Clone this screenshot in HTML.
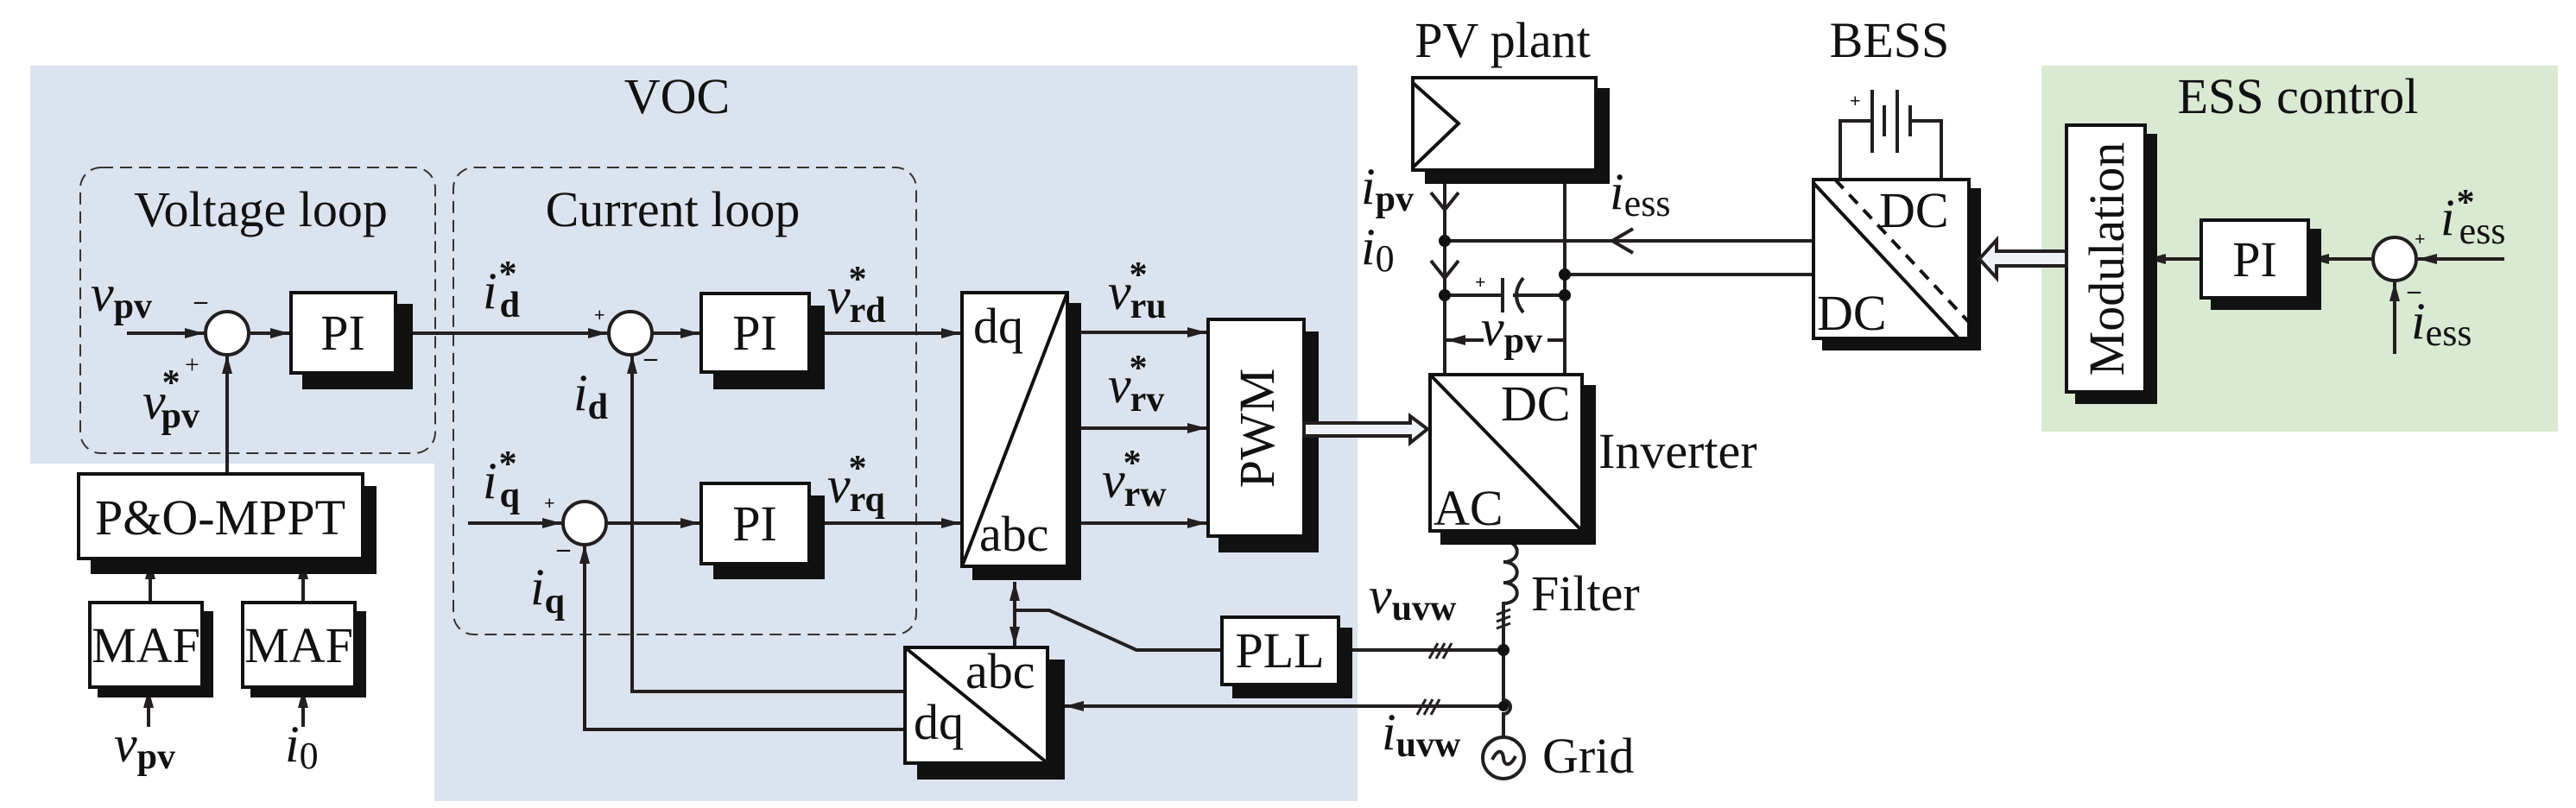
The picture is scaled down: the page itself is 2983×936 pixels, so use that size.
<!DOCTYPE html>
<html><head><meta charset="utf-8"><style>
html,body{margin:0;padding:0;background:#fff}
svg{display:block}
text{font-family:"Liberation Serif",serif;fill:#111}
.t{font-size:58px}
.m{font-size:60px;font-style:italic}
.s{font-size:42px;font-weight:bold;font-style:normal}
.sr{font-size:44px;font-style:normal}
.st{font-size:42px;font-weight:bold;font-style:normal}
.pm{font-size:30px;font-family:"Liberation Sans",sans-serif;font-weight:bold}
</style></head><body>
<svg width="2983" height="936" viewBox="0 0 2983 936" xmlns="http://www.w3.org/2000/svg">
<defs>
<marker id="a" viewBox="0 0 10 10" refX="10" refY="5" markerWidth="22" markerHeight="12" markerUnits="userSpaceOnUse" orient="auto" preserveAspectRatio="none">
<path d="M0,0 L10,5 L0,10 z" fill="#231f20"/>
</marker>
</defs>
<path d="M35,76 H1572 V928 H503 V537 H35 Z" fill="#dbe3ee"/>
<rect x="2364" y="76" width="598" height="424" fill="#d9e9d2"/>
<rect x="93" y="194" width="411" height="331" rx="24" fill="none" stroke="#333" stroke-width="2" stroke-dasharray="14,8"/>
<rect x="525" y="194" width="536" height="541" rx="24" fill="none" stroke="#333" stroke-width="2" stroke-dasharray="14,8"/>
<text class="t" x="784" y="131" text-anchor="middle">VOC</text>
<text class="t" x="302" y="262" text-anchor="middle">Voltage loop</text>
<text class="t" x="779" y="262" text-anchor="middle">Current loop</text>

<g stroke="#231f20" stroke-width="4" fill="none">
<line x1="147" y1="386" x2="236" y2="386" marker-end="url(#a)"/>
<line x1="263" y1="549" x2="263" y2="411" marker-end="url(#a)"/>
<line x1="290" y1="386" x2="335" y2="386" marker-end="url(#a)"/>
<line x1="458" y1="386" x2="703" y2="386" marker-end="url(#a)"/>
<line x1="755" y1="386" x2="810" y2="386" marker-end="url(#a)"/>
<line x1="937" y1="386" x2="1112" y2="386" marker-end="url(#a)"/>
<line x1="542" y1="606" x2="650" y2="606" marker-end="url(#a)"/>
<line x1="702" y1="606" x2="810" y2="606" marker-end="url(#a)"/>
<line x1="937" y1="606" x2="1112" y2="606" marker-end="url(#a)"/>
<polyline points="1048,801 732,801 732,411" marker-end="url(#a)"/>
<polyline points="1048,845 677,845 677,631" marker-end="url(#a)"/>
<line x1="174" y1="698" x2="174" y2="649" marker-end="url(#a)"/>
<line x1="351" y1="698" x2="351" y2="649" marker-end="url(#a)"/>
<line x1="172" y1="842" x2="172" y2="798" marker-end="url(#a)"/>
<line x1="351" y1="842" x2="351" y2="798" marker-end="url(#a)"/>
<line x1="1236" y1="385" x2="1397" y2="385" marker-end="url(#a)"/>
<line x1="1236" y1="496" x2="1397" y2="496" marker-end="url(#a)"/>
<line x1="1236" y1="606" x2="1397" y2="606" marker-end="url(#a)"/>
<line x1="1175" y1="707" x2="1175" y2="674" marker-end="url(#a)"/>
<line x1="1175" y1="707" x2="1175" y2="748" marker-end="url(#a)"/>
<polyline points="1175,707 1215,707 1316,753 1415,753"/>
<line x1="1550" y1="753" x2="1741" y2="753"/>
<line x1="1741" y1="818" x2="1233" y2="818" marker-end="url(#a)"/>
<line x1="1673" y1="197" x2="1673" y2="434"/>
<line x1="1812" y1="197" x2="1812" y2="434"/>
<polyline points="1657,223 1673,243 1689,223"/>
<polyline points="1657,302 1673,322 1689,302"/>
<line x1="1673" y1="279" x2="2100" y2="279"/>
<line x1="1812" y1="318" x2="2100" y2="318"/>
<polyline points="1891,265 1867,279 1891,293"/>
<line x1="1673" y1="342" x2="1740" y2="342"/>
<line x1="1740" y1="322" x2="1740" y2="362"/>
<path d="M1764,322 Q1748,342 1764,362"/>
<line x1="1752" y1="342" x2="1812" y2="342"/>
<line x1="1718" y1="394" x2="1675" y2="394" marker-end="url(#a)"/>
<line x1="1792" y1="394" x2="1812" y2="394"/>
<path d="M1741,615 V627 C1762,627 1762,651 1741,651 C1762,651 1762,675 1741,675 C1762,675 1762,699 1741,699 V811 A8,8 0 0 1 1741,827 V854"/>
<circle cx="1741" cy="878" r="24"/>
<path d="M1728,880 C1734,868 1740,868 1741,878 C1742,888 1749,888 1755,876"/>
<g stroke-width="3">
<line x1="1733" y1="712" x2="1749" y2="706"/><line x1="1733" y1="720" x2="1749" y2="714"/><line x1="1733" y1="728" x2="1749" y2="722"/>
<line x1="1655" y1="763" x2="1665" y2="745"/><line x1="1663" y1="763" x2="1673" y2="745"/><line x1="1671" y1="763" x2="1681" y2="745"/>
<line x1="1641" y1="828" x2="1651" y2="810"/><line x1="1649" y1="828" x2="1659" y2="810"/><line x1="1657" y1="828" x2="1667" y2="810"/>
</g>
<polyline points="2131,206 2131,140 2168,140"/>
<polyline points="2212,140 2248,140 2248,206"/>
<line x1="2168" y1="104" x2="2168" y2="177"/>
<line x1="2182" y1="122" x2="2182" y2="158"/>
<line x1="2197" y1="104" x2="2197" y2="177"/>
<line x1="2212" y1="122" x2="2212" y2="158"/>
<line x1="2549" y1="300" x2="2486" y2="300" marker-end="url(#a)"/>
<line x1="2748" y1="300" x2="2675" y2="300" marker-end="url(#a)"/>
<line x1="2900" y1="300" x2="2800" y2="300" marker-end="url(#a)"/>
<line x1="2773" y1="410" x2="2773" y2="327" marker-end="url(#a)"/>
</g>
<g fill="#111">
<circle cx="1673" cy="279" r="7"/><circle cx="1812" cy="318" r="7"/>
<circle cx="1673" cy="342" r="7"/><circle cx="1812" cy="342" r="7"/>
<circle cx="1741" cy="753" r="7"/><circle cx="1741" cy="818" r="6"/>
</g>
<g fill="#fff" stroke="#231f20" stroke-width="4">
<circle cx="263" cy="386" r="25"/><circle cx="730" cy="386" r="25"/><circle cx="677" cy="606" r="25"/><circle cx="2773" cy="300" r="25"/>
</g>
<g stroke="#111" stroke-width="4">
<rect x="352" y="354" width="124" height="95" fill="#111"/><rect x="337" y="339" width="121" height="93" fill="#fff"/>
<rect x="828" y="356" width="125" height="93" fill="#111"/><rect x="812" y="340" width="125" height="91" fill="#fff"/>
<rect x="828" y="576" width="125" height="93" fill="#111"/><rect x="812" y="560" width="125" height="93" fill="#fff"/>
<rect x="107" y="565" width="327" height="98" fill="#111"/><rect x="91" y="549" width="329" height="98" fill="#fff"/>
<rect x="115" y="710" width="130" height="96" fill="#111"/><rect x="104" y="698" width="130" height="98" fill="#fff"/>
<rect x="292" y="710" width="130" height="96" fill="#111"/><rect x="281" y="698" width="130" height="98" fill="#fff"/>
<rect x="1128" y="353" width="122" height="317" fill="#111"/><rect x="1114" y="339" width="122" height="317" fill="#fff"/>
<rect x="1413" y="386" width="112" height="252" fill="#111"/><rect x="1399" y="370" width="111" height="251" fill="#fff"/>
<rect x="1670" y="448" width="176" height="181" fill="#111"/><rect x="1656" y="434" width="176" height="181" fill="#fff"/>
<rect x="1652" y="104" width="210" height="107" fill="#111"/><rect x="1636" y="90" width="212" height="107" fill="#fff"/>
<rect x="1429" y="729" width="135" height="78" fill="#111"/><rect x="1415" y="715" width="135" height="78" fill="#fff"/>
<rect x="1064" y="766" width="167" height="135" fill="#111"/><rect x="1048" y="750" width="165" height="134" fill="#fff"/>
<rect x="2112" y="220" width="180" height="184" fill="#111"/><rect x="2100" y="208" width="180" height="184" fill="#fff"/>
<rect x="2405" y="157" width="91" height="309" fill="#111"/><rect x="2393" y="145" width="91" height="309" fill="#fff"/>
<rect x="2562" y="267" width="124" height="90" fill="#111"/><rect x="2549" y="255" width="124" height="90" fill="#fff"/>
</g>
<g stroke="#111" stroke-width="4" fill="none">
<line x1="1114" y1="656" x2="1236" y2="339"/>
<line x1="1656" y1="434" x2="1832" y2="615"/>
<line x1="1048" y1="750" x2="1213" y2="884"/>
<line x1="2100" y1="212" x2="2268" y2="392"/>
<line x1="2125" y1="208" x2="2292" y2="386" stroke-dasharray="14,10"/>
<polyline points="1636,96 1689,143 1636,194"/>
</g>
<path d="M1510,490 H1633 V482 L1653,497 L1633,513 V505 H1510 Z" fill="#eef2f8" stroke="#231f20" stroke-width="4"/>
<path d="M2393,291 H2312 V278 L2292,300 L2312,322 V308 H2393 Z" fill="#eef2f8" stroke="#231f20" stroke-width="4"/>
<text class="t" x="397" y="405" text-anchor="middle">PI</text>
<text class="t" x="874" y="405" text-anchor="middle">PI</text>
<text class="t" x="874" y="626" text-anchor="middle">PI</text>
<text class="t" x="2611" y="320" text-anchor="middle">PI</text>
<text class="t" x="255" y="619" text-anchor="middle">P&amp;O-MPPT</text>
<text class="t" x="169" y="767" text-anchor="middle">MAF</text>
<text class="t" x="346" y="767" text-anchor="middle">MAF</text>
<text class="t" x="1482" y="773" text-anchor="middle">PLL</text>
<text class="t" x="1127" y="397">dq</text>
<text class="t" x="1134" y="638">abc</text>
<text class="t" x="1118" y="797">abc</text>
<text class="t" x="1058" y="856">dq</text>
<text class="t" x="1738" y="487">DC</text>
<text class="t" x="1660" y="608">AC</text>
<text class="t" x="2176" y="263">DC</text>
<text class="t" x="2104" y="382">DC</text>
<text class="t" transform="translate(1475,496) rotate(-90)" text-anchor="middle">PWM</text>
<text class="t" transform="translate(2459,300) rotate(-90)" text-anchor="middle">Modulation</text>
<text class="t" x="1740" y="66" text-anchor="middle">PV plant</text>
<text class="t" x="2188" y="66" text-anchor="middle">BESS</text>
<text class="t" x="2661" y="131" text-anchor="middle">ESS control</text>
<text class="t" x="1851" y="542">Inverter</text>
<text class="t" x="1773" y="707">Filter</text>
<text class="t" x="1786" y="895">Grid</text>
<text class="m" x="105" y="360">v<tspan class="s" dy="8">pv</tspan></text>
<text class="m" x="165" y="485">v<tspan class="st" dx="-4" dy="-28">*</tspan><tspan class="s" dx="-22" dy="38">pv</tspan></text>
<text class="m" x="559" y="357">i<tspan class="st" dx="2" dy="-26">*</tspan><tspan class="s" dx="-20" dy="36">d</tspan></text>
<text class="m" x="664" y="475">i<tspan class="s" dy="10">d</tspan></text>
<text class="m" x="559" y="577">i<tspan class="st" dx="2" dy="-26">*</tspan><tspan class="s" dx="-20" dy="36">q</tspan></text>
<text class="m" x="614" y="700">i<tspan class="s" dy="10">q</tspan></text>
<text class="m" x="958" y="363">v<tspan class="st" dx="-2" dy="-26">*</tspan><tspan class="s" dx="-20" dy="36">rd</tspan></text>
<text class="m" x="958" y="582">v<tspan class="st" dx="-2" dy="-26">*</tspan><tspan class="s" dx="-20" dy="36">rq</tspan></text>
<text class="m" x="1283" y="358">v<tspan class="st" dx="-2" dy="-26">*</tspan><tspan class="s" dx="-20" dy="36">ru</tspan></text>
<text class="m" x="1283" y="466">v<tspan class="st" dx="-2" dy="-26">*</tspan><tspan class="s" dx="-20" dy="36">rv</tspan></text>
<text class="m" x="1276" y="576">v<tspan class="st" dx="-2" dy="-26">*</tspan><tspan class="s" dx="-20" dy="36">rw</tspan></text>
<text class="m" x="132" y="882">v<tspan class="s" dy="8">pv</tspan></text>
<text class="m" x="330" y="882">i<tspan class="sr" dy="8">0</tspan></text>
<text class="m" x="1576" y="236">i<tspan class="s" dy="8">pv</tspan></text>
<text class="m" x="1576" y="306">i<tspan class="sr" dy="8">0</tspan></text>
<text class="m" x="1715" y="400">v<tspan class="s" dy="8">pv</tspan></text>
<text class="m" x="1864" y="242">i<tspan class="sr" dy="8">ess</tspan></text>
<text class="m" x="1585" y="710">v<tspan class="s" dy="8">uvw</tspan></text>
<text class="m" x="1600" y="868">i<tspan class="s" dy="8">uvw</tspan></text>
<text class="m" x="2826" y="272">i<tspan class="st" dx="2" dy="-24">*</tspan><tspan class="sr" dx="-18" dy="34">ess</tspan></text>
<text class="m" x="2792" y="392">i<tspan class="sr" dy="8">ess</tspan></text>
<g class="pm">
<text x="225" y="358">–</text><text x="214" y="432" style="font-weight:normal">+</text>
<text x="688" y="372" style="font-size:22px">+</text><text x="746" y="424">–</text>
<text x="630" y="590" style="font-size:22px">+</text><text x="645" y="645">–</text>
<text x="1708" y="334" style="font-size:22px">+</text><text x="2142" y="124" style="font-size:22px">+</text>
<text x="2796" y="284" style="font-size:22px">+</text><text x="2788" y="346">–</text>
</g>
</svg>
</body></html>
